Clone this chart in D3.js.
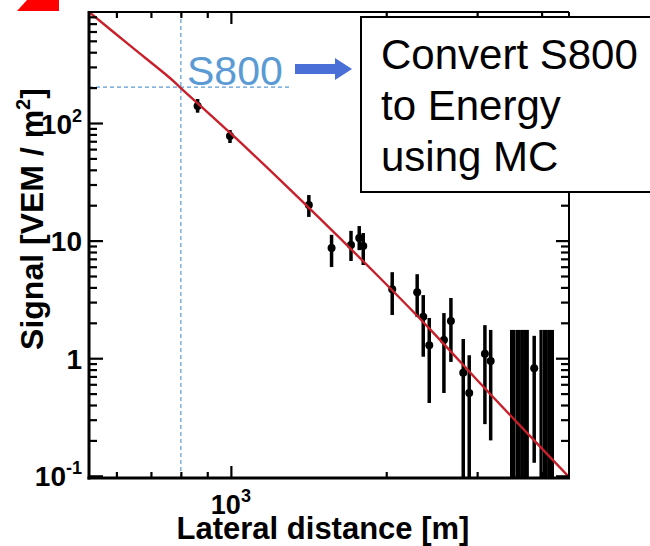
<!DOCTYPE html>
<html>
<head>
<meta charset="utf-8">
<script src="https://cdn.jsdelivr.net/npm/d3@7"></script>
<style>
  html, body { margin: 0; padding: 0; background: #fff; }
  svg { display: block; }
</style>
</head>
<body>
<svg id="chart" width="650" height="546"></svg>
<script>
// Station signals: lateral distance [m], signal [VEM/m^2], error bar ends
const distances = [862, 996, 1416, 1567, 1709, 1773, 1805, 2054, 2296, 2359, 2423, 2587, 2669, 2820, 2896, 3106, 3187, 3870];
const signals   = [139.5, 77.5, 20.1, 8.65, 9.18, 10.5, 9.0, 3.85, 3.63, 2.25, 1.29, 1.43, 2.07, 0.753, 0.506, 1.09, 0.946, 0.82];
const errHigh   = [160, 87.2, 24.4, 11.2, 12.1, 13.3, 11.6, 5.39, 5.18, 3.44, 2.2, 2.42, 3.25, 1.46, 1.06, 1.91, 1.74, 1.55];
const errLow    = [122.4, 67.6, 15.9, 5.96, 6.71, 8.3, 6.2, 2.33, 2.24, 1.03, 0.416, 0.506, 0.93, 0.09, 0.09, 0.275, 0.2, 0.129];

// Silent stations: only an upper bound on the signal
const silentDistances = [3497, 3533, 3583, 3623, 3672, 3713, 3754, 3988, 4042, 4087, 4143, 4199];
const silentUpper     = [1.74, 1.74, 1.74, 1.74, 1.74, 1.74, 1.74, 1.74, 1.74, 1.74, 1.74, 1.74];

// Lateral distribution fit
const fitDistances = [531, 637, 762, 796, 996, 1245, 1945, 2430, 3037, 3474, 4519];
const fitSignals   = [880, 457, 241.4, 202.3, 82.7, 32.8, 4.81, 1.77, 0.615, 0.329, 0.098];

// S800 reference
const s800Distance = 800;
const s800Signal = 202;
const s800GuideEnd = 1300;

// Axis ticks
const yMajor = [0.1, 1, 10, 100];
const yMinor = [0.2,0.3,0.4,0.5,0.6,0.7,0.8,0.9, 2,3,4,5,6,7,8,9, 20,30,40,50,60,70,80,90, 200,300,400,500,600,700,800];
const yLabels = [
  {v: 100, base: "10", sup: "2"},
  {v: 10, base: "10", sup: ""},
  {v: 1, base: "1", sup: ""},
  {v: 0.1, base: "10", sup: "-1"}
];
const xMajor = [1000];
const xMinor = [600, 700, 800, 900, 2000, 3000, 4000];
const xLabels = [{v: 1000, base: "10", sup: "3"}];

const boxLines = ["Convert S800", "to Energy", "using MC"];

const svg = d3.select("#chart");
const pL = 89, pR = 569, pT = 12, pB = 478;

const x = d3.scaleLog().domain([531, 4520]).range([pL, pR]);
const y = d3.scaleLog().domain([0.0958, 879]).range([pB, pT]);

const FONT = "'Liberation Sans', Arial, Helvetica, sans-serif";

// red corner mark
svg.append("polygon")
  .attr("points", "27,0 59,0 59,11 17,11")
  .attr("fill", "#ff0000");

// clip for plotted marks
svg.append("defs").append("clipPath").attr("id", "plotClip")
  .append("rect").attr("x", pL).attr("y", pT).attr("width", pR - pL).attr("height", pB - pT);

// S800 guide lines
const guides = svg.append("g")
  .attr("stroke", "#5b9bd5").attr("stroke-width", 1.2).attr("stroke-dasharray", "4,3").attr("fill", "none");
guides.append("line")
  .attr("x1", x(s800Distance)).attr("x2", x(s800Distance))
  .attr("y1", pT).attr("y2", pB);
guides.append("line")
  .attr("x1", pL).attr("x2", x(s800GuideEnd))
  .attr("y1", y(s800Signal)).attr("y2", y(s800Signal));

const plot = svg.append("g").attr("clip-path", "url(#plotClip)");

// silent-station bars
plot.append("g").selectAll("line")
  .data(silentDistances.map((d, i) => ({r: d, up: silentUpper[i]})))
  .join("line")
  .attr("x1", d => x(d.r)).attr("x2", d => x(d.r))
  .attr("y1", d => y(d.up)).attr("y2", pB)
  .attr("stroke", "#000").attr("stroke-width", 3);

// error bars
const pts = distances.map((d, i) => ({r: d, s: signals[i], lo: errLow[i], hi: errHigh[i]}));
plot.append("g").selectAll("line")
  .data(pts)
  .join("line")
  .attr("x1", d => x(d.r)).attr("x2", d => x(d.r))
  .attr("y1", d => y(d.hi)).attr("y2", d => y(Math.max(d.lo, 0.0958)))
  .attr("stroke", "#000").attr("stroke-width", 3.5);

// markers
plot.append("g").selectAll("circle")
  .data(pts)
  .join("circle")
  .attr("cx", d => x(d.r)).attr("cy", d => y(d.s)).attr("r", 4)
  .attr("fill", "#000");

// fit curve
const fitLine = d3.line()
  .x(d => x(d[0])).y(d => y(d[1]))
  .curve(d3.curveCatmullRom);
plot.append("path")
  .datum(fitDistances.map((d, i) => [d, fitSignals[i]]))
  .attr("d", fitLine)
  .attr("fill", "none").attr("stroke", "#c8202a").attr("stroke-width", 2.4);

// axes (ticks drawn inward on all four sides)
function yAxis(gen, values, size) {
  return gen(y).tickValues(values).tickSize(size).tickFormat("");
}
function xAxis(gen, values, size) {
  return gen(x).tickValues(values).tickSize(size).tickFormat("");
}
const axes = svg.append("g");
axes.append("g").attr("transform", `translate(${pL},0)`).call(yAxis(d3.axisLeft, yMajor, -14));
axes.append("g").attr("transform", `translate(${pL},0)`).call(yAxis(d3.axisLeft, yMinor, -8));
axes.append("g").attr("transform", `translate(${pR},0)`).call(yAxis(d3.axisRight, yMajor, -13));
axes.append("g").attr("transform", `translate(${pR},0)`).call(yAxis(d3.axisRight, yMinor, -8));
axes.append("g").attr("transform", `translate(0,${pB})`).call(xAxis(d3.axisBottom, xMajor, -12));
axes.append("g").attr("transform", `translate(0,${pB})`).call(xAxis(d3.axisBottom, xMinor, -6));
axes.append("g").attr("transform", `translate(0,${pT})`).call(xAxis(d3.axisTop, xMajor, -12));
axes.append("g").attr("transform", `translate(0,${pT})`).call(xAxis(d3.axisTop, xMinor, -6));
axes.selectAll(".domain").remove();
axes.selectAll(".tick line").attr("stroke", "#000").attr("stroke-width", 2.2);

// frame
svg.append("line").attr("x1", pL).attr("x2", pL).attr("y1", pT - 1).attr("y2", pB + 1.5)
  .attr("stroke", "#000").attr("stroke-width", 3);
svg.append("line").attr("x1", pL - 1.5).attr("x2", pR + 1).attr("y1", pB).attr("y2", pB)
  .attr("stroke", "#000").attr("stroke-width", 3);
svg.append("line").attr("x1", pL).attr("x2", pR).attr("y1", pT).attr("y2", pT)
  .attr("stroke", "#000").attr("stroke-width", 2);
svg.append("line").attr("x1", pR).attr("x2", pR).attr("y1", pT).attr("y2", pB)
  .attr("stroke", "#000").attr("stroke-width", 2);

// tick labels
const yl = svg.append("g").attr("font-family", FONT).attr("font-weight", "bold").attr("font-size", 28)
  .attr("text-anchor", "end").attr("fill", "#000");
yLabels.forEach(l => {
  const t = yl.append("text").attr("x", 82).attr("y", y(l.v) + 10.5);
  t.append("tspan").text(l.base);
  if (l.sup) t.append("tspan").attr("dy", -12).attr("font-size", 18).text(l.sup);
});
const xl = svg.append("g").attr("font-family", FONT).attr("font-weight", "bold").attr("font-size", 27)
  .attr("text-anchor", "middle").attr("fill", "#000");
xLabels.forEach(l => {
  const t = xl.append("text").attr("x", x(l.v)).attr("y", 514);
  t.append("tspan").text(l.base);
  if (l.sup) t.append("tspan").attr("dy", -12).attr("font-size", 18).text(l.sup);
});

// axis titles
svg.append("text")
  .attr("x", 323).attr("y", 539)
  .attr("text-anchor", "middle")
  .attr("font-family", FONT).attr("font-weight", "bold").attr("font-size", 31)
  .text("Lateral distance [m]");
const yt = svg.append("text")
  .attr("transform", "translate(43,219) rotate(-90)")
  .attr("text-anchor", "middle")
  .attr("font-family", FONT).attr("font-weight", "bold").attr("font-size", 32);
yt.append("tspan").text("Signal [VEM / m");
yt.append("tspan").attr("dy", -13).attr("font-size", 20).text("2");
yt.append("tspan").attr("dy", 13).text("]");

// S800 annotation
svg.append("text")
  .attr("x", 187).attr("y", 85)
  .attr("font-family", FONT).attr("font-size", 41).attr("fill", "#5b9bd5")
  .text("S800");
svg.append("polygon")
  .attr("points", "295,64 335,64 335,58 352,69 335,80 335,74 295,74")
  .attr("fill", "#4a6fd6");

// note box
svg.append("rect")
  .attr("x", 361).attr("y", 17).attr("width", 320).attr("height", 175)
  .attr("fill", "#fff").attr("stroke", "#000").attr("stroke-width", 2);
svg.append("g").attr("font-family", FONT).attr("font-size", 42).attr("fill", "#000")
  .selectAll("text").data(boxLines).join("text")
  .attr("x", 381).attr("y", (d, i) => 69 + i * 51)
  .text(d => d);
</script>
</body>
</html>
